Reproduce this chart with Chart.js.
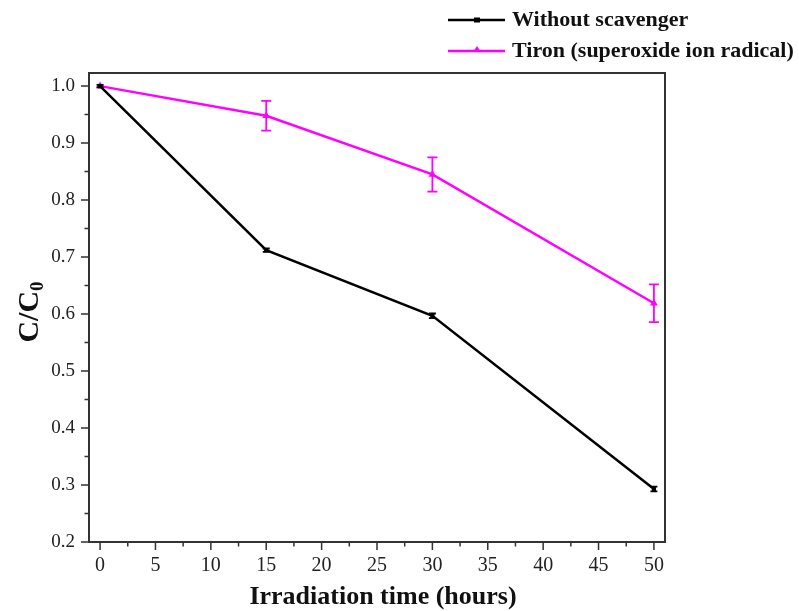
<!DOCTYPE html>
<html>
<head>
<meta charset="utf-8">
<script src="https://cdn.jsdelivr.net/npm/chart.js@4.4.1/dist/chart.umd.min.js"></script>
<style>
  html, body { margin: 0; padding: 0; background: #fff; }
  #wrap { width: 799px; height: 611px; position: relative; }
</style>
</head>
<body>
<div id="wrap"><canvas id="c"></canvas></div>
<script>
// data
const hours = [0, 15, 30, 50];
const withoutScavenger = [1.0, 0.712, 0.597, 0.293];
const withoutErr = [0.002, 0.003, 0.004, 0.004];
const tiron = [1.0, 0.948, 0.845, 0.619];
const tironErr = [0.0, 0.026, 0.030, 0.033];
const xTicks = [0, 5, 10, 15, 20, 25, 30, 35, 40, 45, 50];
const yTicks = [0.2, 0.3, 0.4, 0.5, 0.6, 0.7, 0.8, 0.9, 1.0];

const FONT = "'Liberation Serif', 'DejaVu Serif', serif";
const errs = [withoutErr, tironErr];

// frame, tick marks, error bars, axis titles and legend
const decor = {
  id: 'decor',
  afterDatasetsDraw(chart) {
    const ctx = chart.ctx;
    const xs = chart.scales.x, ys = chart.scales.y;

    // error bars
    chart.data.datasets.forEach((ds, i) => {
      ctx.save();
      ctx.strokeStyle = ds.borderColor;
      ctx.lineWidth = 1.8;
      ds.data.forEach((p, j) => {
        const e = errs[i][j];
        if (!e) return;
        const x = xs.getPixelForValue(p.x);
        const y1 = ys.getPixelForValue(p.y + e);
        const y2 = ys.getPixelForValue(p.y - e);
        const cap = i === 1 ? 5 : 3.5;
        ctx.beginPath();
        ctx.moveTo(x, y1); ctx.lineTo(x, y2);
        ctx.moveTo(x - cap, y1); ctx.lineTo(x + cap, y1);
        ctx.moveTo(x - cap, y2); ctx.lineTo(x + cap, y2);
        ctx.stroke();
      });
      ctx.restore();
    });
  },
  afterDraw(chart) {
    const ctx = chart.ctx;
    const xs = chart.scales.x, ys = chart.scales.y;
    const a = chart.chartArea;
    ctx.save();
    ctx.strokeStyle = '#333';
    ctx.lineWidth = 2;
    ctx.strokeRect(a.left, a.top, a.right - a.left, a.bottom - a.top);

    ctx.lineWidth = 1.5;
    ctx.beginPath();
    xTicks.forEach((v, k) => {
      const x = xs.getPixelForValue(v);
      ctx.moveTo(x, a.bottom); ctx.lineTo(x, a.bottom + 8);
      if (k < xTicks.length - 1) {
        const xm = xs.getPixelForValue(v + 2.5);
        ctx.moveTo(xm, a.bottom); ctx.lineTo(xm, a.bottom + 4.5);
      }
    });
    yTicks.forEach((v, k) => {
      const y = ys.getPixelForValue(v);
      ctx.moveTo(a.left, y); ctx.lineTo(a.left - 8, y);
      if (k < yTicks.length - 1) {
        const ym = ys.getPixelForValue(v + 0.05);
        ctx.moveTo(a.left, ym); ctx.lineTo(a.left - 4.5, ym);
      }
    });
    ctx.stroke();

    // x title
    ctx.fillStyle = '#111';
    ctx.font = 'bold 26px ' + FONT;
    ctx.textAlign = 'center';
    ctx.textBaseline = 'alphabetic';
    ctx.fillText('Irradiation time (hours)', 383, 604);

    // y title with subscript
    ctx.save();
    ctx.translate(38, 312);
    ctx.rotate(-Math.PI / 2);
    ctx.textAlign = 'left';
    ctx.font = 'bold 30px ' + FONT;
    const main = 'C/C';
    const w1 = ctx.measureText(main).width;
    ctx.font = 'bold 19px ' + FONT;
    const w2 = ctx.measureText('0').width;
    const start = -(w1 + w2) / 2;
    ctx.font = 'bold 30px ' + FONT;
    ctx.fillText(main, start, 0);
    ctx.font = 'bold 19px ' + FONT;
    ctx.fillText('0', start + w1, 5);
    ctx.restore();

    // legend
    ctx.font = 'bold 22px ' + FONT;
    ctx.textAlign = 'left';
    ctx.textBaseline = 'middle';
    chart.data.datasets.forEach((ds, i) => {
      const y = 20 + i * 31;
      ctx.strokeStyle = ds.borderColor;
      ctx.lineWidth = 2.5;
      ctx.beginPath();
      ctx.moveTo(448, y); ctx.lineTo(505, y);
      ctx.stroke();
      ctx.fillStyle = ds.borderColor;
      if (ds.pointStyle === 'rect') {
        ctx.fillRect(474, y - 2.5, 6, 5);
      } else {
        ctx.beginPath();
        ctx.moveTo(477, y - 5); ctx.lineTo(481, y + 1); ctx.lineTo(473, y + 1);
        ctx.closePath(); ctx.fill();
      }
      ctx.fillStyle = '#111';
      ctx.fillText(ds.label, 512, y);
    });
    ctx.restore();
  }
};

new Chart(document.getElementById('c'), {
  type: 'line',
  data: {
    datasets: [
      {
        label: 'Without scavenger',
        data: hours.map((h, i) => ({ x: h, y: withoutScavenger[i] })),
        borderColor: '#000000',
        backgroundColor: '#000000',
        borderWidth: 2.5,
        pointStyle: 'rect',
        pointRadius: 3,
        pointBorderWidth: 0,
        tension: 0
      },
      {
        label: 'Tiron (superoxide ion radical)',
        data: hours.map((h, i) => ({ x: h, y: tiron[i] })),
        borderColor: '#ff00ff',
        backgroundColor: '#ff00ff',
        borderWidth: 2.5,
        pointStyle: 'triangle',
        pointRadius: 4.5,
        pointBorderWidth: 0,
        tension: 0
      }
    ]
  },
  options: {
    responsive: true,
    maintainAspectRatio: false,
    animation: false,
    layout: { padding: { top: 73, right: 134, left: 0, bottom: 0 } },
    plugins: {
      legend: { display: false },
      tooltip: { enabled: false }
    },
    scales: {
      x: {
        type: 'linear',
        min: -1,
        max: 51,
        grid: { display: false },
        border: { display: false },
        afterBuildTicks: (s) => { s.ticks = xTicks.map(v => ({ value: v })); },
        afterFit: (s) => { s.height = 69; },
        ticks: {
          padding: 4,
          color: '#222',
          font: { family: FONT, size: 20 }
        }
      },
      y: {
        type: 'linear',
        min: 0.2,
        max: 1.023,
        grid: { display: false },
        border: { display: false },
        afterBuildTicks: (s) => { s.ticks = yTicks.map(v => ({ value: v })); },
        afterFit: (s) => { s.width = 89; },
        ticks: {
          padding: 6,
          color: '#222',
          font: { family: FONT, size: 19 },
          callback: (v) => v.toFixed(1)
        }
      }
    }
  },
  plugins: [decor]
});
</script>
</body>
</html>
